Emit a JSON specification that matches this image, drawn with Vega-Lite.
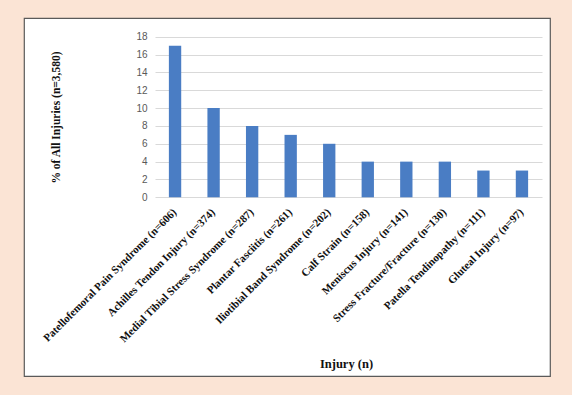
{
  "$schema": "https://vega.github.io/schema/vega-lite/v6.json",
  "width": 526,
  "height": 358,
  "autosize": {"type": "none"},
  "padding": {"left": 24, "top": 18, "right": 22, "bottom": 19},
  "background": "#FBE4D5",
  "config": {
    "view": {"fill": "white", "stroke": "#5a5a5a", "strokeWidth": 1.2}
  },
  "data": {
    "values": [
      {"injury": "Patellofemoral Pain Syndrome (n=606)", "pct": 17},
      {"injury": "Achilles Tendon Injury (n=374)", "pct": 10},
      {"injury": "Medial Tibial Stress Syndrome (n=287)", "pct": 8},
      {"injury": "Plantar Fasciitis (n=261)", "pct": 7},
      {"injury": "Iliotibial Band Syndrome (n=202)", "pct": 6},
      {"injury": "Calf Strain (n=158)", "pct": 4},
      {"injury": "Meniscus Injury (n=141)", "pct": 4},
      {"injury": "Stress Fracture/Fracture (n=130)", "pct": 4},
      {"injury": "Patella Tendinopathy (n=111)", "pct": 3},
      {"injury": "Gluteal Injury (n=97)", "pct": 3}
    ]
  },
  "mark": {"type": "bar", "color": "#4a7dc4"},
  "encoding": {
    "x": {
      "field": "injury",
      "type": "nominal",
      "sort": null,
      "scale": {"range": [131, 518], "paddingInner": 0.68, "paddingOuter": 0.36},
      "axis": {
        "title": "Injury (n)",
        "titleFont": "Liberation Serif",
        "titleFontWeight": "bold",
        "titleFontSize": 12.5,
        "titleColor": "#111",
        "titleX": 322,
        "titleY": 166,
        "titleBaseline": "middle",
        "titleAnchor": null,
        "offset": -178.7,
        "domain": false,
        "ticks": false,
        "tickSize": 0,
        "grid": false,
        "labelAngle": -45,
        "labelAlign": "right",
        "labelBaseline": "middle",
        "labelPadding": 13,
        "labelFont": "Liberation Serif",
        "labelFontWeight": "bold",
        "labelFontSize": 11,
        "labelColor": "#111",
        "labelLimit": 400
      }
    },
    "y": {
      "field": "pct",
      "type": "quantitative",
      "scale": {"domain": [-20.03, 20.1], "nice": false, "zero": false},
      "axis": {
        "title": "% of All Injuries (n=3,580)",
        "titleFont": "Liberation Serif",
        "titleFontWeight": "bold",
        "titleFontSize": 11.5,
        "titleColor": "#111",
        "titleX": -94,
        "titleY": 99,
        "titleAngle": -90,
        "titleBaseline": "bottom",
        "titleAlign": "center",
        "offset": -131,
        "values": [0, 2, 4, 6, 8, 10, 12, 14, 16, 18],
        "domain": false,
        "ticks": false,
        "tickSize": 0,
        "grid": true,
        "gridColor": "#d9d9d9",
        "gridWidth": 1,
        "labelPadding": 8,
        "labelFont": "Liberation Sans",
        "labelFontSize": 10,
        "labelColor": "#595959"
      }
    }
  }
}
